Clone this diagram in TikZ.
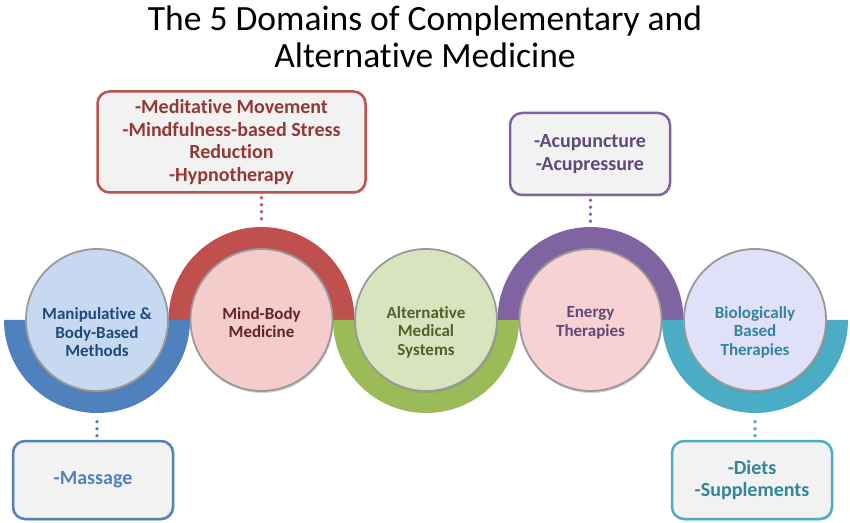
\documentclass[tikz,border=0pt]{standalone}
\usepackage{fontspec}
\setmainfont{Carlito}[Ligatures=NoCommon]
\usetikzlibrary{shadows,backgrounds}
\definecolor{ringblue}{HTML}{4F81BD}
\definecolor{ringred}{HTML}{C0504D}
\definecolor{ringgreen}{HTML}{9BBB59}
\definecolor{ringpurple}{HTML}{8064A2}
\definecolor{ringteal}{HTML}{4BACC6}
\definecolor{txtblue}{HTML}{1F497D}
\definecolor{txtred}{HTML}{632523}
\definecolor{txtgreen}{HTML}{4F6228}
\definecolor{txtpurple}{HTML}{5F497A}
\definecolor{txtteal}{HTML}{31859C}
\definecolor{listred}{HTML}{953735}
\definecolor{fillblue}{HTML}{C6D9F1}
\definecolor{fillpink}{HTML}{F4CCCC}
\definecolor{fillgreen}{HTML}{D7E4BD}
\definecolor{fillrose}{HTML}{F8D2D2}
\definecolor{filllav}{HTML}{E0E0F8}
\begin{document}
\begin{tikzpicture}[x=1pt,y=1pt,
  domcircle/.style={circle, draw=black!40, line width=1.8pt, minimum size=142pt, inner sep=0pt, align=center,
    font=\fontsize{17}{18.8}\selectfont\bfseries, drop shadow={shadow xshift=1pt, shadow yshift=-2pt, opacity=.35}},
  twolines/.style={text height=36pt},
  threelines/.style={text height=74pt},
  listbox/.style={rounded corners=12pt, fill=black!5, line width=2.5pt, align=center, inner sep=0pt,
    font=\fontsize{20}{22.5}\selectfont\bfseries, drop shadow={shadow xshift=1pt, shadow yshift=-1.5pt, opacity=.25}},
  dotline/.style={line width=3.6pt, line cap=round, dash pattern=on 0pt off 7pt, shorten <=4pt, shorten >=3pt}]
\useasboundingbox (0,0) rectangle (850,522);
\node[font=\fontsize{35.5}{37.5}\selectfont, align=center] (title) at (425,485) {The 5 Domains of Complementary and\\Alternative Medicine};
\node[domcircle, threelines, fill=fillblue, text=txtblue] (manip) at (97,202) {Manipulative \&\\Body-Based\\Methods};
\node[domcircle, twolines, fill=fillpink, text=txtred] (mind) at ([shift=({164.5pt,0pt})]manip) {Mind-Body\\Medicine};
\node[domcircle, threelines, fill=fillgreen, text=txtgreen] (alt) at ([shift=({164.5pt,0pt})]mind) {Alternative\\Medical\\Systems};
\node[domcircle, twolines, fill=fillrose, text=txtpurple] (energy) at ([shift=({164.5pt,0pt})]alt) {Energy\\Therapies};
\node[domcircle, threelines, fill=filllav, text=txtteal] (bio) at ([shift=({164.5pt,0pt})]energy) {Biologically\\Based\\Therapies};
\begin{scope}[on background layer]
\foreach \n/\d/\c in {manip/180/ringblue, mind/-180/ringred, alt/180/ringgreen, energy/-180/ringpurple, bio/180/ringteal}
  \fill[\c] ([shift={(180:93pt)}]\n.center) arc[start angle=180, delta angle=\d, radius=93pt]
    -- ([shift={(0:71pt)}]\n.center) arc[start angle=0, delta angle=-\d, radius=71pt] -- cycle;
\end{scope}
\node[listbox, draw=ringred, text=listred, minimum width=268pt, minimum height=101pt] (mindlist) at ([shift=({-30pt,178pt})]mind) {-Meditative Movement\\-Mindfulness-based Stress\\Reduction\\-Hypnotherapy};
\node[listbox, draw=ringpurple, text=txtpurple, minimum width=160pt, minimum height=82pt] (acu) at ([shift=({-0.5pt,166pt})]energy) {-Acupuncture\\-Acupressure};
\node[listbox, draw=ringblue, text=ringblue, minimum width=160pt, minimum height=78pt] (massage) at ([shift=({-4pt,-160pt})]manip) {-Massage};
\node[listbox, draw=ringteal, text=txtteal, minimum width=160pt, minimum height=78pt] (diets) at ([shift=({-3pt,-160pt})]bio) {-Diets\\-Supplements};
\coordinate (mindtop) at ([yshift=93pt]mind.center);
\coordinate (energytop) at ([yshift=93pt]energy.center);
\coordinate (manipbot) at ([yshift=-93pt]manip.center);
\coordinate (biobot) at ([yshift=-93pt]bio.center);
\draw[dotline, ringred] (mindlist.south -| mindtop) -- (mindtop);
\draw[dotline, ringpurple] (acu.south -| energytop) -- (energytop);
\draw[dotline, ringblue] (massage.north -| manipbot) -- (manipbot);
\draw[dotline, ringteal] (diets.north -| biobot) -- (biobot);
\end{tikzpicture}
\end{document}
